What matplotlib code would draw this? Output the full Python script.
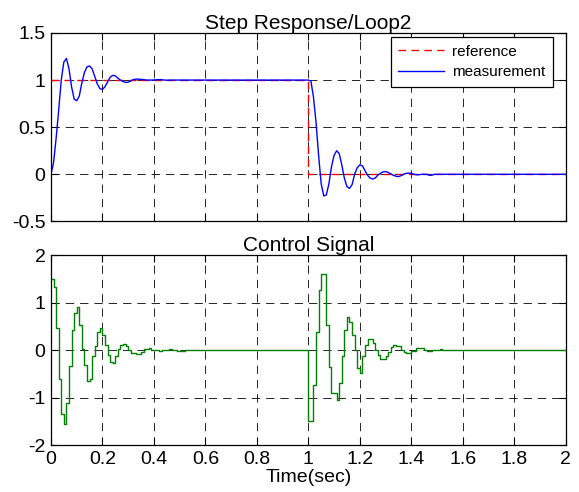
import numpy as np
import matplotlib
import matplotlib.pyplot as plt
from matplotlib.ticker import FuncFormatter

matplotlib.use('agg')
plt.rcParams['font.family'] = ['Liberation Sans', 'DejaVu Sans']
plt.rcParams['axes.unicode_minus'] = False
plt.rcParams['lines.scale_dashes'] = False

Ts = 0.01
t_end = 2.0
t_step = 1.0

# reference (step up at t=0, step down at t=1)
ref_t = [0, 1, 1, 2]
ref_val = [1, 1, 0, 0]

# measurement, sampled every 10 ms after each step
meas_up = [0, 0.12, 0.38, 0.68, 1.0, 1.19, 1.23, 1.12, 0.93, 0.80, 0.78, 0.83, 0.97, 1.08,
           1.14, 1.15, 1.12, 1.04, 0.96, 0.91, 0.90, 0.93, 0.98, 1.03, 1.05, 1.045, 1.02,
           1.0, 0.985, 0.975, 0.978, 0.99, 1.005, 1.01, 1.01, 1.008, 1.005, 1.0, 1.0, 1.0,
           1.002, 1.004, 1.005, 1.004, 1.0, 0.999, 1.0]
meas_down = [1.0, 0.99, 0.82, 0.55, 0.2, -0.1, -0.23, -0.22, -0.1, 0.08, 0.2, 0.25, 0.22,
             0.1, -0.04, -0.13, -0.15, -0.11, 0.0, 0.07, 0.10, 0.09, 0.04, -0.01, -0.04,
             -0.05, -0.04, -0.01, 0.01, 0.025, 0.03, 0.02, 0.005, -0.01, -0.02, -0.025,
             -0.015, 0.0, 0.01, 0.012, 0.01, 0.0, -0.005, -0.005, 0.0, 0.0, 0.0, -0.01,
             -0.01, 0.0, 0.0]

# control signal (zero-order hold, 10 ms)
ctrl_up = [1.49, 1.34, 0.46, -0.61, -1.35, -1.56, -1.12, -0.33, 0.43, 0.78, 0.92, 0.53,
           0.02, -0.31, -0.66, -0.6, -0.13, 0.09, 0.39, 0.46, 0.32, 0.11, -0.1, -0.24,
           -0.27, -0.13, 0.02, 0.11, 0.13, 0.09, 0.0, -0.06, -0.06, -0.08, -0.08, -0.03,
           0.02, 0.02, 0.04, 0.0, 0.0, 0.0, -0.01, 0.0, 0.01, 0.01, 0.02, 0.01, 0.0,
           -0.01, -0.02, -0.01, 0.0]
ctrl_down = [-1.5, -1.5, -0.73, 0.39, 1.27, 1.6, 1.6, 0.53, -0.35, -0.91, -0.91, -1.06,
             -0.7, -0.12, 0.43, 0.7, 0.6, 0.32, 0.0, -0.38, -0.49, -0.12, 0.11, 0.23, 0.23,
             0.15, 0.0, -0.1, -0.19, -0.19, -0.13, -0.03, 0.06, 0.11, 0.08, 0.08, 0.0,
             -0.03, -0.06, -0.06, -0.01, -0.01, 0.04, 0.05, 0.05, 0.0, -0.02, -0.01, 0.0,
             0.01, 0.01, 0.02, 0.01, 0.0]

n = int(round(t_end / Ts)) + 1
k1 = int(round(t_step / Ts))
t = np.arange(n) * Ts

meas = np.zeros(n)
meas[:k1] = 1.0
meas[:len(meas_up)] = meas_up
meas[k1:k1 + len(meas_down)] = meas_down

ctrl = np.zeros(n)
ctrl[:len(ctrl_up)] = ctrl_up
ctrl[k1:k1 + len(ctrl_down)] = ctrl_down

fig = plt.figure(figsize=(5.79, 4.92), dpi=100)
ax1 = fig.add_axes([0.088, 0.55, 0.889, 0.383])
ax2 = fig.add_axes([0.088, 0.0955, 0.889, 0.3856])

fmt = FuncFormatter(lambda v, p: '%g' % v)
fs = 14


def style(ax):
    ax.set_xlim(0, 2)
    ax.set_xticks(np.arange(0, 2.01, 0.2))
    ax.xaxis.set_major_formatter(fmt)
    ax.yaxis.set_major_formatter(fmt)
    ax.tick_params(direction='in', length=5, width=0.8, top=True, right=True,
                   labelsize=fs, pad=4)
    ax.grid(True, color='black', linestyle=(0, (6, 4.3)), linewidth=0.6)
    ax.set_axisbelow(True)
    for s in ax.spines.values():
        s.set_linewidth(0.9)


ax1.plot(ref_t, ref_val, color='red', linestyle=(0, (5.5, 3.8)), linewidth=1.0,
         label='reference')
ax1.plot(t, meas, color='blue', linewidth=1.0, label='measurement')
ax1.set_ylim(-0.5, 1.5)
ax1.set_yticks(np.arange(-0.5, 1.51, 0.5))
style(ax1)
ax1.tick_params(labelbottom=False)
ax1.set_title('Step Response/Loop2', fontsize=15, pad=3)
leg = ax1.legend(loc='upper right', bbox_to_anchor=(0.975, 0.979), borderaxespad=0,
                 fontsize=11, handlelength=3, fancybox=False, framealpha=1,
                 edgecolor='black', borderpad=0.5, labelspacing=0.45, handletextpad=0.5)
leg.get_frame().set_linewidth(0.9)

ax2.plot(t, ctrl, color='green', linewidth=1.0, drawstyle='steps-post')
ax2.set_ylim(-2, 2)
ax2.set_yticks(np.arange(-2, 2.01, 1))
style(ax2)
ax2.set_title('Control Signal', fontsize=15, pad=3)
ax2.set_xlabel('Time(sec)', fontsize=fs, labelpad=1)

fig.savefig('out.png', dpi=100)
